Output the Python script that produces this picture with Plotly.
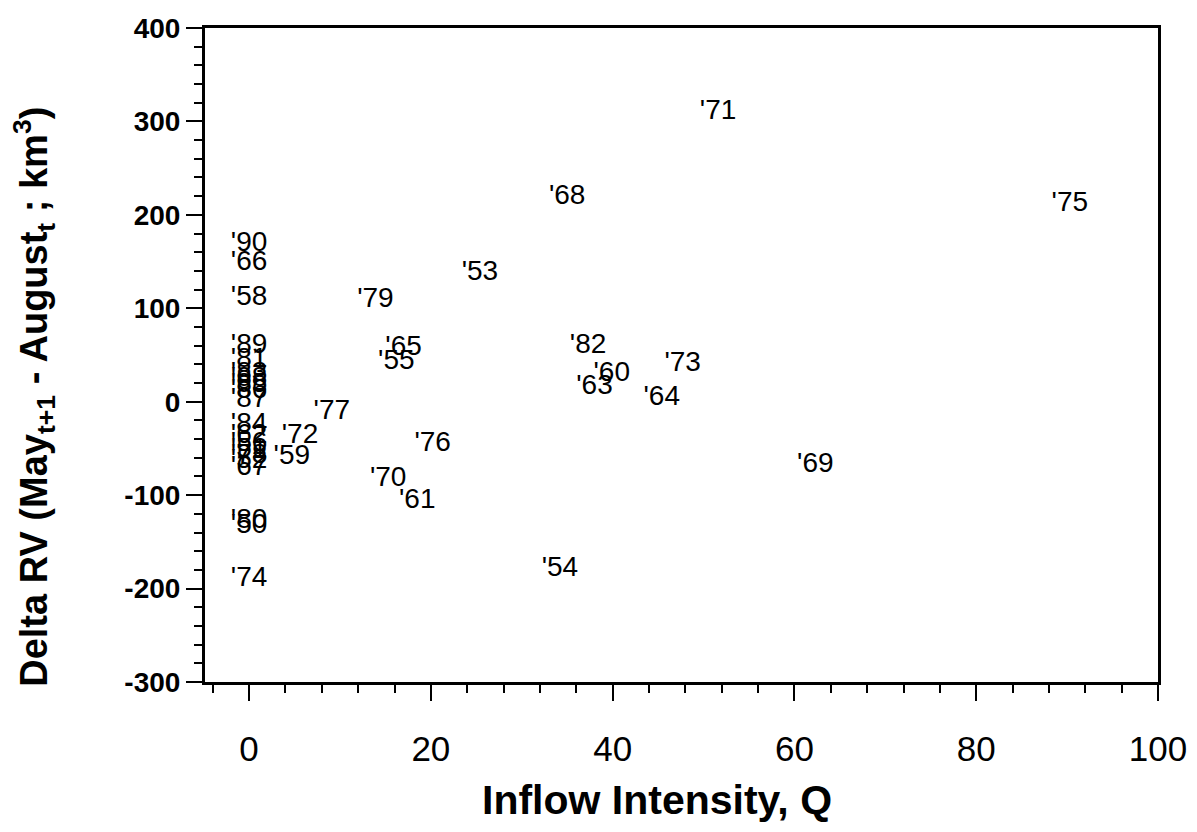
import plotly.graph_objects as go

# Year labels and their positions (Inflow intensity Q, Delta RV)
years = ["'50", "'51", "'52", "'53", "'54", "'55", "'56", "'58", "'59", "'60",
         "'61", "'62", "'63", "'64", "'65", "'66", "'67", "'68", "'69", "'70",
         "'71", "'72", "'73", "'74", "'75", "'76", "'77", "'78", "'79", "'80",
         "'81", "'82", "'83", "'84", "'85", "'86", "'87", "'88", "'89", "'90"]
inflow_q = [0.0, 0.0, 0.0, 25.4, 34.2, 16.2, 0.0, 0.0, 4.7, 39.9,
            18.5, 0.0, 38.0, 45.4, 17.0, 0.0, 0.0, 35.0, 62.3, 15.3,
            51.6, 5.6, 47.7, 0.0, 90.3, 20.2, 9.1, 0.0, 13.9, 0.0,
            0.0, 37.3, 0.0, 0.0, 0.0, 0.0, 0.0, 0.0, 0.0, 0.0]
delta_rv = [-133, -52, -63, 138, -179, 42, -45, 111, -59, 30,
            -106, -37, 16, 4, 58, 148, -71, 219, -68, -83,
            310, -37, 40, -190, 212, -45, -11, -58, 109, -128,
            45, 60, 30, -25, 18, 12, 2, 24, 60, 169]

x_ticks = [0, 20, 40, 60, 80, 100]
y_ticks = [-300, -200, -100, 0, 100, 200, 300, 400]

x_title = "<b>Inflow Intensity, Q</b>"
y_title = "<b>Delta RV (May<sub>t+1</sub> - August<sub>t</sub> ; km<sup>3</sup>)</b>"

font_family = "Liberation Sans, Arial, sans-serif"

fig = go.Figure()
fig.add_trace(go.Scatter(
    x=inflow_q, y=delta_rv, text=years, mode="text",
    textposition="middle center",
    textfont=dict(family=font_family, size=28, color="black"),
    showlegend=False, hoverinfo="skip",
))

fig.update_layout(
    width=1197, height=832,
    margin=dict(l=197, r=47, t=20, b=158, autoexpand=False),
    paper_bgcolor="white", plot_bgcolor="white",
    font=dict(family=font_family, color="black"),
)

fig.update_xaxes(
    range=[-4.85, 100],
    automargin=False,
    tickvals=x_ticks,
    ticktext=[str(v) for v in x_ticks],
    ticks="outside", ticklen=16, tickwidth=2, tickcolor="black",
    ticklabelstandoff=18,
    minor=dict(dtick=4, tick0=0, ticks="outside", ticklen=8, tickwidth=2, tickcolor="black", showgrid=False),
    tickfont=dict(size=35, family=font_family, color="black"),
    showline=True, linewidth=3, linecolor="black", mirror=True,
    showgrid=False, zeroline=False,
)

fig.update_yaxes(
    range=[-300, 400],
    automargin=False,
    tickvals=y_ticks,
    ticktext=[str(v) for v in y_ticks],
    ticks="outside", ticklen=16, tickwidth=2, tickcolor="black",
    minor=dict(dtick=20, tick0=0, ticks="outside", ticklen=8, tickwidth=2, tickcolor="black", showgrid=False),
    tickfont=dict(size=28, family=font_family, color="black", weight="bold"),
    showline=True, linewidth=3, linecolor="black", mirror=True,
    showgrid=False, zeroline=False,
)

# Axis titles as annotations (placed off-centre as in the reference)
fig.add_annotation(text=x_title, xref="paper", yref="paper", x=0.474, y=-0.18,
                   xanchor="center", yanchor="middle", showarrow=False,
                   font=dict(size=41, family=font_family, color="black"))
fig.add_annotation(text=y_title, xref="paper", yref="paper", x=-0.1795, y=0.436,
                   xanchor="center", yanchor="middle", showarrow=False, textangle=-90,
                   font=dict(size=38, family=font_family, color="black"))

fig.write_html("out.html")
